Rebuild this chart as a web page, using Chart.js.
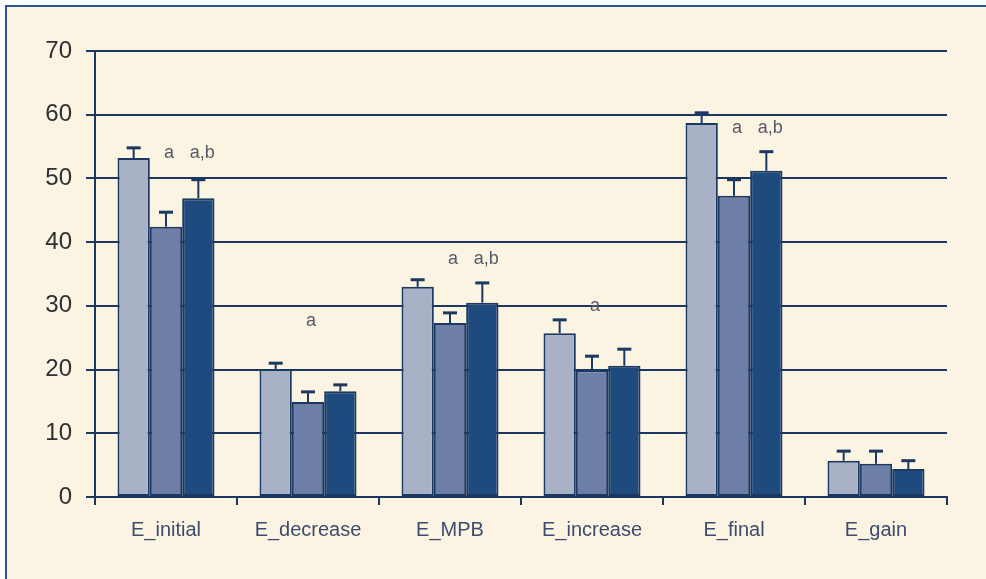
<!DOCTYPE html>
<html>
<head>
<meta charset="utf-8">
<script src="https://cdn.jsdelivr.net/npm/chart.js@4/dist/chart.umd.min.js"></script>
<style>
  html, body { margin: 0; padding: 0; background: #ffffff; }
  #wrap { width: 986px; height: 579px; position: relative; }
</style>
</head>
<body>
<div id="wrap"><canvas id="c" width="986" height="579"></canvas></div>
<script>
// Categories and tick labels
const categories = ['E_initial', 'E_decrease', 'E_MPB', 'E_increase', 'E_final', 'E_gain'];
const yTicks = [0, 10, 20, 30, 40, 50, 60, 70];

// Group means
const groupLight = [53.2, 20.1, 33.0, 25.7, 58.7, 5.7];
const groupMid   = [42.4, 14.9, 27.3, 19.9, 47.3, 5.2];
const groupDark  = [46.9, 16.6, 30.5, 20.6, 51.2, 4.4];

// Upper error (SD) for each group
const sdLight = [1.6, 0.9, 1.1, 2.1, 1.6, 1.5];
const sdMid   = [2.3, 1.6, 1.6, 2.2, 2.5, 2.0];
const sdDark  = [2.9, 1.0, 3.1, 2.6, 3.0, 1.3];

// Significance marks above the second and third bars of each group
const markMid   = ['a', 'a', 'a', 'a', 'a', ''];
const markDark  = ['a,b', '', 'a,b', '', 'a,b', ''];
const markLevel = [54.0, 27.6, 37.4, 30.0, 57.9, null];

const NAVY = '#1b3860';

const panelPlugin = {
  id: 'panel',
  beforeDraw(chart) {
    const ctx = chart.ctx;
    ctx.save();
    ctx.fillStyle = '#ffffff';
    ctx.fillRect(0, 0, chart.width, chart.height);
    ctx.fillStyle = '#fcf4e3';
    ctx.fillRect(6, 6, chart.width - 6, chart.height - 6);
    ctx.strokeStyle = '#2d5596';
    ctx.lineWidth = 2;
    ctx.beginPath();
    ctx.moveTo(6, chart.height);
    ctx.lineTo(6, 6);
    ctx.lineTo(chart.width, 6);
    ctx.stroke();
    ctx.restore();
  }
};

const errorBarPlugin = {
  id: 'errorBars',
  afterDatasetsDraw(chart) {
    const ctx = chart.ctx;
    const yScale = chart.scales.y;
    const sds = [sdLight, sdMid, sdDark];
    ctx.save();
    ctx.strokeStyle = NAVY;
    chart.data.datasets.forEach((ds, i) => {
      const meta = chart.getDatasetMeta(i);
      meta.data.forEach((bar, j) => {
        const v = ds.data[j];
        const top = yScale.getPixelForValue(v + sds[i][j]);
        const base = yScale.getPixelForValue(v);
        ctx.lineWidth = 2;
        ctx.beginPath();
        ctx.moveTo(bar.x, base);
        ctx.lineTo(bar.x, top);
        ctx.stroke();
        ctx.lineWidth = 3;
        ctx.beginPath();
        ctx.moveTo(bar.x - 7, top);
        ctx.lineTo(bar.x + 7, top);
        ctx.stroke();
      });
    });
    // significance letters
    ctx.fillStyle = '#545a6a';
    ctx.font = '18px "Liberation Sans", Arial, sans-serif';
    ctx.textAlign = 'center';
    ctx.textBaseline = 'middle';
    const midMeta = chart.getDatasetMeta(1);
    const darkMeta = chart.getDatasetMeta(2);
    categories.forEach((c, j) => {
      if (markLevel[j] == null) return;
      const y = yScale.getPixelForValue(markLevel[j]);
      if (markMid[j]) ctx.fillText(markMid[j], midMeta.data[j].x + 3, y);
      if (markDark[j]) ctx.fillText(markDark[j], darkMeta.data[j].x + 4, y);
    });
    ctx.restore();
  }
};

const common = {
  borderColor: NAVY,
  borderWidth: 2,
  borderSkipped: false,
  categoryPercentage: 0.683,
  barPercentage: 1.0
};

new Chart(document.getElementById('c'), {
  type: 'bar',
  data: {
    labels: categories,
    datasets: [
      Object.assign({ label: 'Group 1', data: groupLight, backgroundColor: '#a9b1c7' }, common),
      Object.assign({ label: 'Group 2', data: groupMid, backgroundColor: '#6d7fa6' }, common),
      Object.assign({ label: 'Group 3', data: groupDark, backgroundColor: '#1f4a7e' }, common)
    ]
  },
  options: {
    responsive: false,
    animation: false,
    layout: { padding: { top: 51, right: 39, bottom: 30, left: 0 } },
    plugins: {
      legend: { display: false },
      tooltip: { enabled: false }
    },
    scales: {
      x: {
        offset: true,
        grid: {
          offset: true,
          drawOnChartArea: false,
          drawTicks: true,
          tickLength: 8,
          color: NAVY,
          lineWidth: 2
        },
        border: { display: true, color: NAVY, width: 2 },
        ticks: {
          color: '#3d4c6c',
          font: { family: '"Liberation Sans", Arial, sans-serif', size: 20 },
          padding: 13,
          maxRotation: 0
        },
        afterFit(scale) { scale.height = 52; }
      },
      y: {
        min: 0,
        max: 70,
        afterBuildTicks(scale) { scale.ticks = yTicks.map(v => ({ value: v })); },
        grid: {
          color: NAVY,
          lineWidth: 2,
          tickLength: 9,
          drawTicks: true
        },
        border: { display: true, color: NAVY, width: 2 },
        ticks: {
          color: '#2e2e33',
          font: { family: '"Liberation Sans Narrow", "Liberation Sans", Arial, sans-serif', size: 24 },
          padding: 14
        },
        afterFit(scale) { scale.width = 95; }
      }
    }
  },
  plugins: [panelPlugin, errorBarPlugin]
});
</script>
</body>
</html>
